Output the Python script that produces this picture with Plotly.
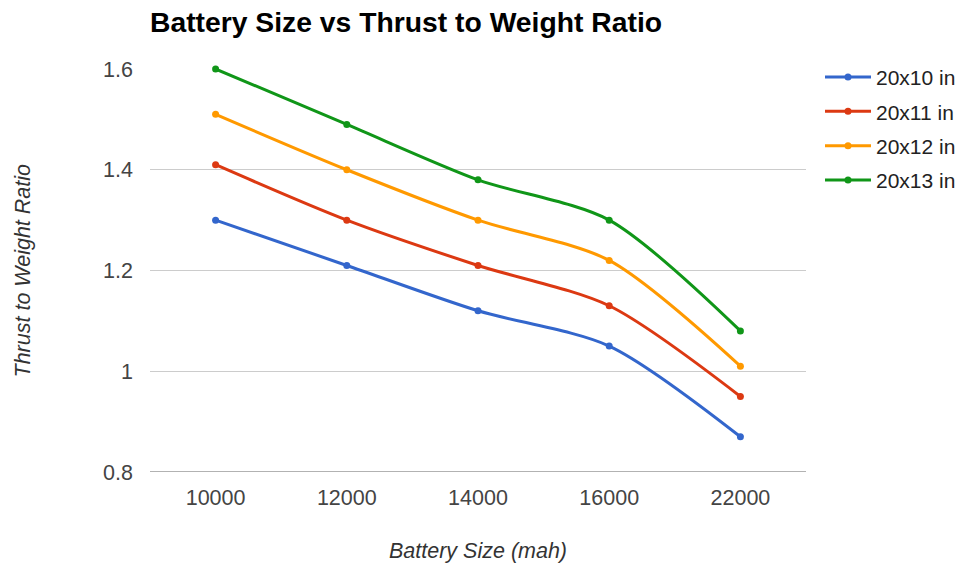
import plotly.graph_objects as go

# Battery capacities (mAh) and thrust-to-weight ratio per propeller size
battery_sizes = ["10000", "12000", "14000", "16000", "22000"]
prop_20x10 = [1.30, 1.21, 1.12, 1.05, 0.87]
prop_20x11 = [1.41, 1.30, 1.21, 1.13, 0.95]
prop_20x12 = [1.51, 1.40, 1.30, 1.22, 1.01]
prop_20x13 = [1.60, 1.49, 1.38, 1.30, 1.08]
series_names = ["20x10 in", "20x11 in", "20x12 in", "20x13 in"]
y_ticks = [0.8, 1.0, 1.2, 1.4, 1.6]
y_tick_text = ["0.8", "1", "1.2", "1.4", "1.6"]

colors = ["#3366cc", "#dc3912", "#ff9900", "#109618"]
FONT = "Liberation Sans, Arial, sans-serif"

fig = go.Figure()
for i, (name, vals) in enumerate(zip(series_names, [prop_20x10, prop_20x11, prop_20x12, prop_20x13])):
    fig.add_trace(go.Scatter(
        x=battery_sizes, y=vals, name=name,
        mode="lines+markers",
        line=dict(color=colors[i], width=3, shape="spline", smoothing=0.8),
        marker=dict(color=colors[i], size=7),
        cliponaxis=False,
        legendgroup=name,
    ))

fig.update_layout(
    width=966, height=566,
    margin=dict(l=150, r=160, t=69, b=94, autoexpand=False),
    paper_bgcolor="white", plot_bgcolor="white",
    font=dict(family=FONT, size=21, color="#444444"),
    title=dict(
        text="<b>Battery Size vs Thrust to Weight Ratio</b>",
        x=150 / 966, xref="container", xanchor="left",
        y=1 - 22 / 566, yref="container", yanchor="middle",
        font=dict(family=FONT, size=28.3, color="#000000"),
    ),
    showlegend=True,
    legend=dict(
        x=(820 - 150) / 656, xanchor="left", y=1.03, yanchor="top",
        font=dict(family=FONT, size=21, color="#222222"),
        tracegroupgap=4, itemwidth=46,
        bgcolor="rgba(0,0,0,0)",
    ),
    xaxis=dict(
        type="category", range=[-0.5, 4.5],
        showgrid=False, showline=False, zeroline=False,
        ticks="", tickfont=dict(size=21.5, color="#444444"),
        ticklabelstandoff=10,
    ),
    yaxis=dict(
        range=[0.8, 1.6], tickvals=y_ticks, ticktext=y_tick_text,
        showgrid=True, gridcolor="#cccccc", gridwidth=1,
        zeroline=False, showline=False,
        ticks="", tickfont=dict(size=21.5, color="#444444"),
        ticklabelstandoff=16,
    ),
    shapes=[dict(type="line", xref="paper", yref="y", x0=0, x1=1, y0=0.8, y1=0.8,
                 line=dict(color="#999999", width=1.5), layer="below")],
    annotations=[
        dict(text="<i>Battery Size (mah)</i>", xref="paper", yref="paper",
             x=0.5, y=-(551 - 472) / 403, xanchor="center", yanchor="middle",
             showarrow=False, font=dict(family=FONT, size=21.5, color="#333333")),
        dict(text="<i>Thrust to Weight Ratio</i>", xref="paper", yref="paper",
             x=-(150 - 22) / 656, y=0.5, xanchor="center", yanchor="middle",
             textangle=-90, showarrow=False,
             font=dict(family=FONT, size=21.5, color="#333333")),
    ],
)

fig.write_html("out.html")
